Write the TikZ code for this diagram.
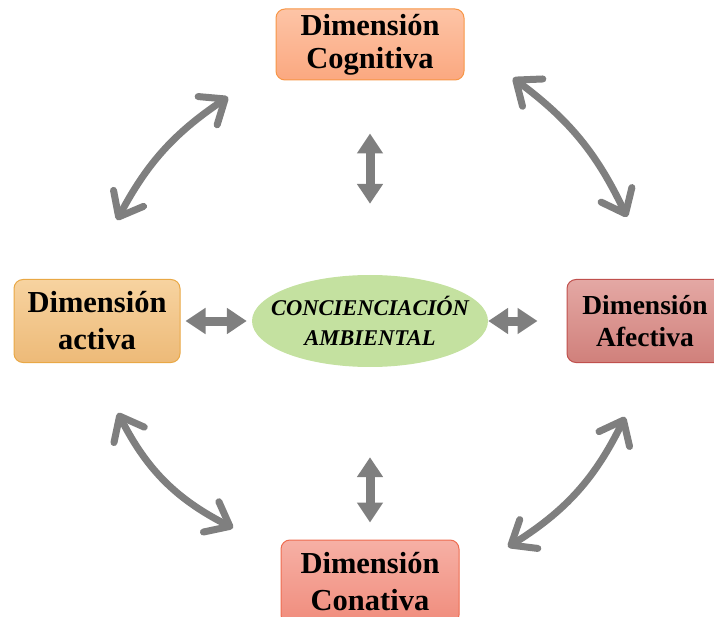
\documentclass[tikz,border=0pt]{standalone}
\usepackage{fontspec}
\setmainfont{Liberation Serif}
\usetikzlibrary{arrows.meta,shapes.geometric}

\definecolor{gris}{RGB}{127,127,127}
\definecolor{verde}{RGB}{196,225,160}

\begin{document}
\begin{tikzpicture}[x=1pt,y=1pt,
  caja/.style={draw,line width=1pt,rounded corners=9pt,align=center,inner sep=0pt},
  flecha/.style={draw=gris,line width=7pt,line cap=round,
    {Straight Barb[length=21pt,width=34pt,round]}-{Straight Barb[length=21pt,width=34pt,round]}},
  bloque/.style={draw=gris,line width=9pt,
    {Triangle[length=20pt,width=25pt]}-{Triangle[length=20pt,width=25pt]}}]
\useasboundingbox (0,0) rectangle (714,-617);

% cajas
\node[caja,draw={rgb,255:red,247;green,150;blue,70},top color={rgb,255:red,253;green,196;blue,166},bottom color={rgb,255:red,251;green,168;blue,128},
  minimum width=188pt,minimum height=71pt,font=\bfseries\fontsize{30.5}{33}\selectfont] (cog) at (370,-44.5) {Dimensión\\Cognitiva};
\node[caja,draw={rgb,255:red,233;green,168;blue,69},top color={rgb,255:red,247;green,211;blue,160},bottom color={rgb,255:red,237;green,186;blue,120},
  minimum width=166pt,minimum height=83pt,font=\bfseries\fontsize{30.5}{37}\selectfont] (act) at (97,-321) {Dimensión\\activa};
\node[caja,draw={rgb,255:red,192;green,80;blue,77},top color={rgb,255:red,228;green,168;blue,164},bottom color={rgb,255:red,208;green,128;blue,123},
  minimum width=156pt,minimum height=83pt,font=\bfseries\fontsize{27.5}{32}\selectfont] (afe) at (645,-321) {Dimensión\\Afectiva};
\node[caja,draw={rgb,255:red,238;green,108;blue,80},top color={rgb,255:red,246;green,176;blue,165},bottom color={rgb,255:red,240;green,140;blue,124},
  minimum width=178pt,minimum height=84pt,font=\bfseries\fontsize{30.5}{37}\selectfont] (con) at (370,-582) {Dimensión\\Conativa};

% centro
\node[ellipse,fill=verde,minimum width=236pt,minimum height=92pt,inner xsep=-17pt,inner ysep=0pt,align=center,
  font=\bfseries\itshape\fontsize{22.5}{30}\selectfont] (cc) at (370,-321) {CONCIENCIACIÓN\\AMBIENTAL};

% puntas de las flechas curvas
\coordinate (tlA) at (228,-97);
\coordinate (tlB) at (117,-220);
\coordinate (trA) at (513,-78);
\coordinate (trB) at (627,-217);
\coordinate (blA) at (118,-413);
\coordinate (blB) at (233,-528);
\coordinate (brA) at (625,-417);
\coordinate (brB) at (508,-547);

\draw[flecha] (tlA) to[bend right=14] (tlB);
\draw[flecha] (trA) to[bend left=14] (trB);
\draw[flecha] (blA) to[bend right=18] (blB);
\draw[flecha] (brA) to[bend left=16] (brB);

\draw[bloque] ([yshift=-53pt]cog.south) -- ([yshift=71pt]cc.north);
\draw[bloque] ([yshift=-90pt]cc.south) -- ([yshift=17pt]con.north);
\draw[bloque] ([xshift=5pt]act.east) -- ([xshift=-5pt]cc.west);
\draw[bloque] (cc.east) -- ([xshift=-29pt]afe.west);
\end{tikzpicture}
\end{document}
